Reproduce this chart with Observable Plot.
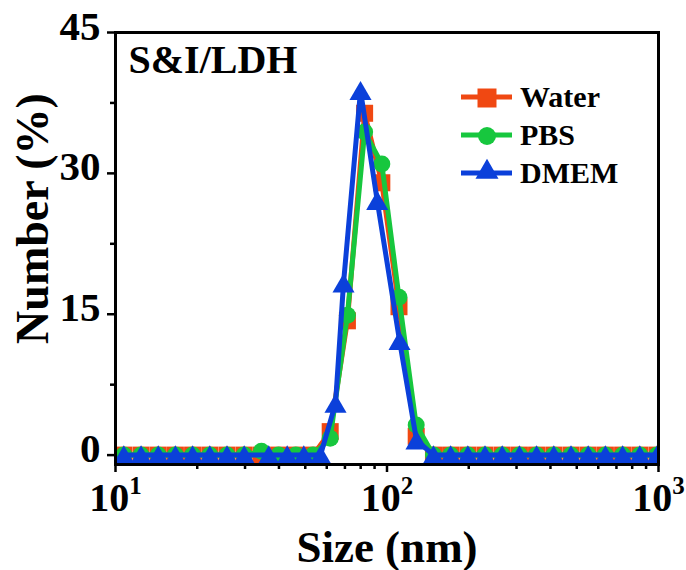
<!DOCTYPE html>
<html><head><meta charset="utf-8">
<script src="https://cdn.jsdelivr.net/npm/d3@7"></script>
<script src="https://cdn.jsdelivr.net/npm/@observablehq/plot@0.6"></script>
<style>
body{margin:0;background:#fff;}
#wrap{position:relative;width:686px;height:570px;}
#wrap svg{position:absolute;left:0;top:0;}
</style></head><body><div id="wrap"></div>
<script>
// Size bins (nm) shared by Water and PBS
const gridSizes = [10.73,12.42,14.37,16.62,19.23,22.25,25.75,29.79,34.47,39.88,46.14,53.39,61.77,71.48,82.71,95.70,110.7,128.1,148.3,171.5,198.5,229.6,265.7,307.4,355.6,411.5,476.1,550.9,637.4,737.6,853.4,987.4];
const waterValues = [0,0,0,0,0,0,0,0,0,0,0,0,2.5,14.3,36.4,29.0,15.8,2.0,0,0,0,0,0,0,0,0,0,0,0,0,0,0];
const pbsValues   = [0,0,0,0,0,0,0,0,0.4,0,0,0,1.8,14.9,34.4,31.0,16.8,3.2,0,0,0,0,0,0,0,0,0,0,0,0,0,0];
// DMEM read separately
const dmemSizes  = [10.73,12.42,14.37,16.62,19.23,22.25,25.75,29.79,36.69,42.90,49.39,56.89,64.62,69.16,79.88,92.03,111.2,128.4,148.3,171.5,198.5,229.6,265.7,307.4,355.6,411.5,476.1,550.9,637.4,737.6,853.4,987.4];
const dmemValues = [0,0,0,0,0,0,0,0,0,0,0,0,5.5,18.3,38.8,27.1,12.2,1.6,0,0,0,0,0,0,0,0,0,0,0,0,0,0];

const seriesNames = ["Water","PBS","DMEM"];
const seriesColors = ["#F04812","#17C73E","#0B40DA"];
const xMajorTicks = [10,100,1000];
const xMinorTicks = [20,30,40,50,60,70,80,90,200,300,400,500,600,700,800,900];
const yMajorTicks = [0,15,30,45];
const yMinorTicks = [7.5,22.5,37.5];

const water = gridSizes.map((s,i)=>({size:s,value:waterValues[i]}));
const pbs = gridSizes.map((s,i)=>({size:s,value:pbsValues[i]}));
const dmem = dmemSizes.map((s,i)=>({size:s,value:dmemValues[i]}));

const font = "'Liberation Serif','Times New Roman',serif";

const chart = Plot.plot({
  width: 686, height: 570,
  marginLeft: 115, marginRight: 28, marginTop: 32, marginBottom: 106,
  style: {fontFamily: font, background: "#fff", color: "#000"},
  x: {type: "log", domain: [10, 1000], label: null},
  y: {domain: [-1, 45], label: null},
  marks: [
    Plot.line(water, {x:"size", y:"value", stroke: seriesColors[0], strokeWidth: 5, clip: true}),
    Plot.dot(water, {x:"size", y:"value", symbol:"square", r: 9.6, fill: seriesColors[0], clip: true}),
    Plot.line(pbs, {x:"size", y:"value", stroke: seriesColors[1], strokeWidth: 5, clip: true}),
    Plot.dot(pbs, {x:"size", y:"value", symbol:"circle", r: 8.5, fill: seriesColors[1], clip: true}),
    Plot.line(dmem, {x:"size", y:"value", stroke: seriesColors[2], strokeWidth: 5, clip: true}),
    Plot.dot(dmem, {x:"size", y:"value", symbol:"triangle", r: 8.2, dy: 3, fill: seriesColors[2], clip: true}),
    Plot.frame({stroke: "#000", strokeWidth: 3}),
    Plot.axisX({ticks: xMajorTicks, tickSize: 8, fill: "none", strokeWidth: 2.5, label: null}),
    Plot.axisX({ticks: xMinorTicks, tickSize: 5, fill: "none", strokeWidth: 2.5, label: null}),
    Plot.axisX({ticks: xMajorTicks, tickSize: 0, tickPadding: 18, fontSize: 40, fontWeight: "bold", fill: "#000",
      tickFormat: d => "10^" + Math.round(Math.log10(d)), label: null}),
    Plot.axisY({ticks: yMajorTicks, tickSize: 8, fill: "none", strokeWidth: 2.5, label: null}),
    Plot.axisY({ticks: yMinorTicks, tickSize: 5, fill: "none", strokeWidth: 2.5, label: null}),
    Plot.axisY({ticks: yMajorTicks, tickSize: 0, tickPadding: 15, dy: -6, fontSize: 41, fontWeight: "bold", fill: "#000", label: null}),
    Plot.text(["S&I/LDH"], {text: d=>d, frameAnchor: "top-left", dx: 13, dy: 12, textAnchor: "start", lineAnchor: "top", fontSize: 40, fontWeight: "bold", fill: "#000"}),
    Plot.text(["Size (nm)"], {text: d=>d, frameAnchor: "bottom", dy: 97, textAnchor: "middle", lineAnchor: "bottom", fontSize: 45, fontWeight: "bold", fill: "#000"}),
    Plot.text(["Number (%)"], {text: d=>d, frameAnchor: "left", dx: -68, dy: -30, rotate: -90, textAnchor: "middle", lineAnchor: "bottom", fontSize: 46, fontWeight: "bold", fill: "#000"})
  ]
});

// superscript exponents on x tick labels
d3.select(chart).selectAll('g[aria-label="x-axis tick label"] text').each(function(){
  const t = d3.select(this);
  const s = t.text().split("^");
  if (s.length < 2) return;
  t.text(null);
  t.append("tspan").text(s[0]);
  t.append("tspan").attr("font-size", 25).attr("dy", -17).text(s[1]);
});

document.getElementById("wrap").appendChild(chart);

// legend overlay
const lg = d3.select("#wrap").append("svg").attr("width",686).attr("height",570).style("pointer-events","none");
const legendY = [97, 135, 173];
const symbols = [d3.symbolSquare, d3.symbolCircle, d3.symbolTriangle];
const sizes = [19*19, Math.PI*9*9, 230];
seriesNames.forEach((name,i)=>{
  const g = lg.append("g").attr("transform", `translate(0,${legendY[i]})`);
  g.append("line").attr("x1",461).attr("x2",512).attr("y1",0).attr("y2",0).attr("stroke",seriesColors[i]).attr("stroke-width",5);
  g.append("path").attr("d", d3.symbol(symbols[i], sizes[i])()).attr("transform", `translate(487,${i===2?-1:1})`).attr("fill",seriesColors[i]);
  g.append("text").attr("x",520).attr("y",10).attr("font-family",font).attr("font-size",30).attr("font-weight","bold").attr("fill","#000").text(name);
});
</script></body></html>
